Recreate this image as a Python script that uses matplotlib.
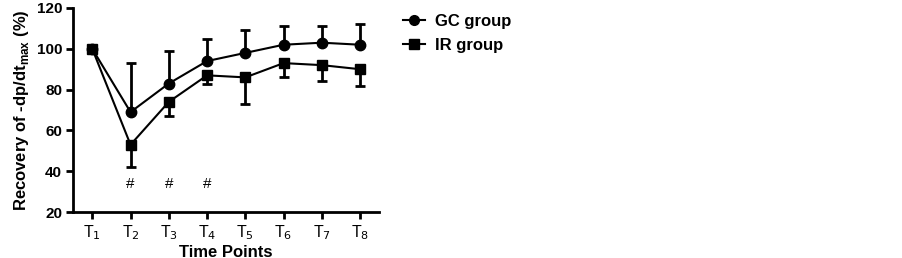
import matplotlib
matplotlib.use("Agg")
from matplotlib import pyplot as plt
from matplotlib.lines import Line2D
import numpy as np

plt.rcParams['font.family'] = ['Liberation Sans', 'DejaVu Sans']

time_labels = ['T$_1$', 'T$_2$', 'T$_3$', 'T$_4$', 'T$_5$', 'T$_6$', 'T$_7$', 'T$_8$']
gc_mean = [100, 69, 83, 94, 98, 102, 103, 102]
gc_err_up = [0, 24, 16, 11, 11, 9, 8, 10]
ir_mean = [100, 53, 74, 87, 86, 93, 92, 90]
ir_err_down = [0, 11, 7, 4, 13, 7, 8, 8]
sig_points = [2, 3, 4]
sig_level = 34

x = np.arange(1, len(time_labels) + 1)

fig = plt.figure(figsize=(9.03, 2.58), dpi=100)
ax = fig.add_axes([0.081, 0.178, 0.339, 0.791])

# GC group: error bars upwards only
ax.errorbar(x, gc_mean, yerr=[np.zeros(len(x)), gc_err_up], color='black', lw=1.5,
            marker='o', ms=7.5, capsize=3.5, capthick=2, elinewidth=2)
# IR group: error bars downwards only
ax.errorbar(x, ir_mean, yerr=[ir_err_down, np.zeros(len(x))], color='black', lw=1.5,
            marker='s', ms=7.5, capsize=3.5, capthick=2, elinewidth=2)

for p in sig_points:
    ax.text(p, sig_level, '#', ha='center', va='center', fontsize=11)

ax.set_xlim(0.5, 8.5)
ax.set_ylim(20, 120)
ax.set_yticks([20, 40, 60, 80, 100, 120])
ax.set_xticks(x)
ax.set_xticklabels(time_labels, fontsize=11.5)
for lbl in ax.get_yticklabels():
    lbl.set_fontweight('bold')
    lbl.set_fontsize(11)

ax.spines['top'].set_visible(False)
ax.spines['right'].set_visible(False)
ax.spines['left'].set_linewidth(2)
ax.spines['bottom'].set_linewidth(2)
ax.tick_params(width=2, length=5, pad=3)

ax.set_xlabel('Time Points', fontsize=12, fontweight='bold', labelpad=2)
ax.set_ylabel('Recovery of -dp/dt$_{\\mathregular{max}}$ (%)', fontsize=12, fontweight='bold', labelpad=4)

handles = [Line2D([], [], color='black', lw=1.5, marker='o', ms=7),
           Line2D([], [], color='black', lw=1.5, marker='s', ms=7)]
ax.legend(handles, ['GC group', 'IR group'], loc='upper left', bbox_to_anchor=(1.03, 1.045),
          frameon=False, prop={'weight': 'bold', 'size': 12}, handlelength=1.3,
          handletextpad=0.6, labelspacing=0.55)

fig.savefig('out.png', dpi=100)
